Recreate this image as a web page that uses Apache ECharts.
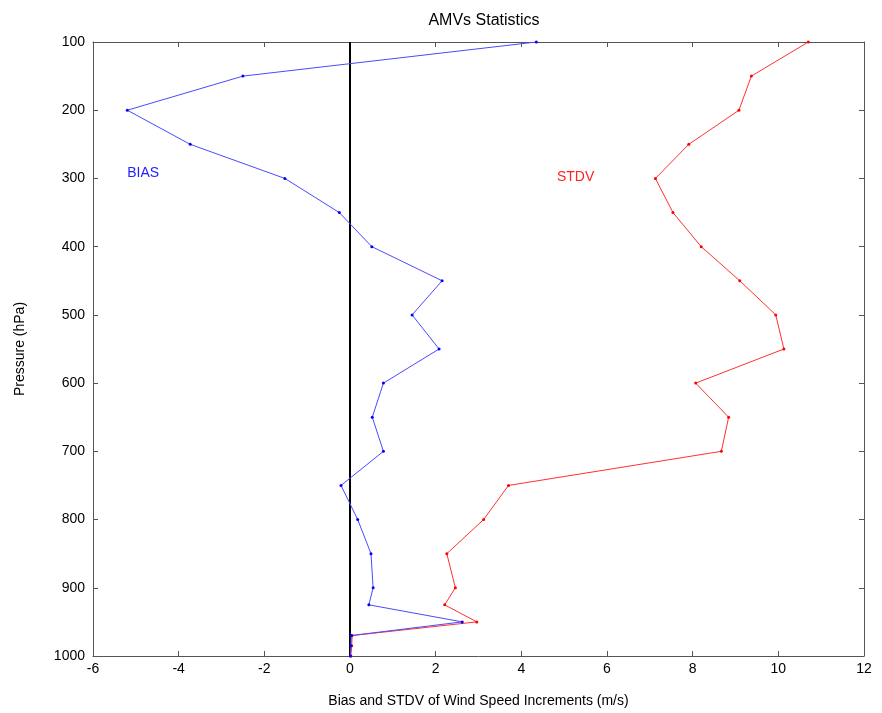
<!DOCTYPE html>
<html>
<head>
<meta charset="utf-8">
<script src="https://cdn.jsdelivr.net/npm/echarts@6/dist/echarts.min.js"></script>
<style>html,body{margin:0;padding:0;background:#fff;}#c{width:882px;height:713px;}</style>
</head>
<body>
<div id="c"></div>
<script>
const pressure = [100,150,200,250,300,350,400,450,500,550,600,650,700,750,800,850,900,925,950,970,985,1000];
const bias = [4.35,-2.50,-5.20,-3.73,-1.52,-0.25,0.51,2.15,1.45,2.08,0.78,0.52,0.78,-0.21,0.18,0.49,0.54,0.44,2.62,0.03,0.02,0.01];
const stdv = [10.70,9.37,9.08,7.91,7.13,7.54,8.20,9.10,9.94,10.13,8.07,8.84,8.67,3.70,3.12,2.26,2.46,2.21,2.96,0.05,0.04,0.02];
const zeroLine = [[0,100],[0,1000]];
const xTicks = [-6,-4,-2,0,2,4,6,8,10,12];
const yTicks = [100,200,300,400,500,600,700,800,900,1000];
const labels = [{text:'BIAS', x:-5.2, y:292, color:'#2222ff'},{text:'STDV', x:4.83, y:298, color:'#ff2020'}];

const font = '"Liberation Sans", Arial, sans-serif';
const chart = echarts.init(document.getElementById('c'), null, {renderer:'canvas'});
const axisLineStyle = {color:'#555', width:1};
const baseX = {type:'value', min:xTicks[0], max:xTicks[xTicks.length-1], interval:2, splitLine:{show:false},
  axisLine:{show:true, onZero:false, lineStyle:axisLineStyle}, axisTick:{show:true, inside:true, length:5, lineStyle:{color:'#555'}}};
const baseY = {type:'value', inverse:true, min:yTicks[0], max:yTicks[yTicks.length-1], interval:100, splitLine:{show:false},
  axisLine:{show:true, onZero:false, lineStyle:axisLineStyle}, axisTick:{show:true, inside:true, length:5, lineStyle:{color:'#555'}}};
const option = {
  backgroundColor:'#fff',
  animation:false,
  title:{text:'AMVs Statistics', left:479, top:8, textAlign:'center', textStyle:{fontFamily:font, fontSize:16, fontWeight:'normal', color:'#000'}},
  grid:{left:93, right:18, top:42, bottom:56},
  xAxis:[
    Object.assign({}, baseX, {position:'bottom', name:'Bias and STDV of Wind Speed Increments (m/s)', nameLocation:'middle', nameGap:38,
      nameTextStyle:{fontFamily:font, fontSize:14, color:'#000'},
      axisLabel:{fontFamily:font, fontSize:14, color:'#000', margin:6, formatter:v=>String(v)}}),
    Object.assign({}, baseX, {position:'top', axisLabel:{show:false}})
  ],
  yAxis:[
    Object.assign({}, baseY, {position:'left', name:'Pressure (hPa)', nameLocation:'middle', nameGap:66,
      nameTextStyle:{fontFamily:font, fontSize:14, color:'#000'},
      axisLabel:{fontFamily:font, fontSize:14, color:'#000', margin:8, formatter:v=>String(v)}}),
    Object.assign({}, baseY, {position:'right', axisLabel:{show:false}})
  ],
  series:[
    {name:'zero', type:'line', data:zeroLine, symbol:'none', lineStyle:{color:'#000', width:2}, z:1},
    {name:'BIAS', type:'line', data:pressure.map((p,i)=>[bias[i],p]), symbol:'circle', symbolSize:3,
      itemStyle:{color:'#0000ff'}, lineStyle:{color:'#4a4aff', width:1}, z:3},
    {name:'STDV', type:'line', data:pressure.map((p,i)=>[stdv[i],p]), symbol:'circle', symbolSize:3,
      itemStyle:{color:'#ff0000'}, lineStyle:{color:'#ff3030', width:1}, z:2}
  ]
};
chart.setOption(option);
const g = labels.map(l => {
  const pt = chart.convertToPixel({xAxisIndex:0, yAxisIndex:0}, [l.x, l.y]);
  return {type:'text', x:pt[0], y:pt[1], style:{text:l.text, fill:l.color, font:'14px ' + font, verticalAlign:'middle'}};
});
chart.setOption({graphic:g});
</script>
</body>
</html>
